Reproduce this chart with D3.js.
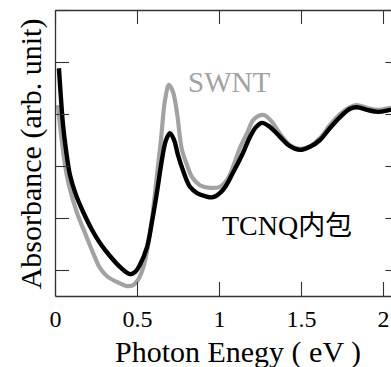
<!DOCTYPE html>
<html>
<head>
<meta charset="utf-8">
<script src="https://cdn.jsdelivr.net/npm/d3@7"></script>
</head>
<body style="margin:0;padding:0;background:#fff">
<svg id="chart" width="391" height="367" style="display:block"></svg>
<script>
// Absorption spectra: pristine SWNT and TCNQ-encapsulated SWNT
const xTicks = [0, 0.5, 1, 1.5, 2];
const xTickLabels = ["0", "0.5", "1", "1.5", "2"];
const yTicks = [0.5, 1.5, 2.5, 3.5, 4.5, 5.5];

const swntEnergy = [0.018, 0.030, 0.043, 0.061, 0.085, 0.134, 0.183, 0.232, 0.274, 0.317, 0.378, 0.439, 0.476, 0.506, 0.543, 0.573, 0.598, 0.622, 0.646, 0.671, 0.695, 0.720, 0.744, 0.774, 0.805, 0.835, 0.884, 0.945, 1.006, 1.049, 1.085, 1.128, 1.171, 1.207, 1.238, 1.274, 1.323, 1.372, 1.433, 1.494, 1.555, 1.616, 1.677, 1.738, 1.799, 1.841, 1.902, 1.970, 2.049, 2.100];
const swntAbs = [3.67, 3.29, 2.94, 2.52, 2.13, 1.60, 1.21, 0.83, 0.54, 0.38, 0.27, 0.19, 0.21, 0.31, 0.60, 1.08, 1.65, 2.33, 3.00, 3.77, 4.06, 3.92, 3.52, 2.81, 2.52, 2.29, 2.13, 2.08, 2.10, 2.23, 2.48, 2.85, 3.13, 3.38, 3.46, 3.48, 3.35, 3.12, 2.90, 2.83, 2.88, 3.04, 3.29, 3.50, 3.63, 3.67, 3.62, 3.58, 3.62, 3.64];

const tcnqEnergy = [0.024, 0.037, 0.049, 0.067, 0.091, 0.128, 0.171, 0.226, 0.274, 0.335, 0.396, 0.457, 0.488, 0.518, 0.561, 0.591, 0.622, 0.652, 0.677, 0.701, 0.726, 0.750, 0.780, 0.823, 0.866, 0.915, 0.963, 1.024, 1.085, 1.146, 1.189, 1.226, 1.262, 1.311, 1.372, 1.433, 1.494, 1.555, 1.616, 1.677, 1.738, 1.799, 1.841, 1.902, 1.970, 2.049, 2.100];
const tcnqAbs = [4.38, 3.77, 3.29, 2.81, 2.33, 1.94, 1.62, 1.27, 1.02, 0.77, 0.56, 0.42, 0.46, 0.60, 0.94, 1.42, 2.00, 2.62, 3.00, 3.13, 3.00, 2.71, 2.42, 2.10, 1.98, 1.92, 1.90, 2.04, 2.37, 2.75, 3.06, 3.25, 3.33, 3.25, 3.06, 2.88, 2.81, 2.87, 3.00, 3.23, 3.44, 3.60, 3.63, 3.58, 3.54, 3.58, 3.60];

const serifFace = '"Liberation Serif"';
const cjkFace = '"Noto Sans CJK JP"';

const svg = d3.select("#chart");
const plotLeft = 55, plotRight = 399.4, plotTop = 10, plotBottom = 296;

const x = d3.scaleLinear().domain([0, 2.1]).range([plotLeft, plotRight]);
const y = d3.scaleLinear().domain([0, 5.5]).range([plotBottom, plotTop]);

svg.append("defs").append("clipPath").attr("id", "plot")
  .append("rect").attr("x", plotLeft).attr("y", plotTop)
  .attr("width", plotRight - plotLeft).attr("height", plotBottom - plotTop);

const line = d3.line()
  .x(d => x(d[0])).y(d => y(d[1]))
  .curve(d3.curveCatmullRom.alpha(0.5));

const lines = svg.append("g").attr("clip-path", "url(#plot)");
lines.append("path")
  .datum(d3.zip(swntEnergy, swntAbs))
  .attr("d", line)
  .attr("fill", "none").attr("stroke", "#a2a2a2")
  .attr("stroke-width", 4.2).attr("stroke-linejoin", "round");
lines.append("path")
  .datum(d3.zip(tcnqEnergy, tcnqAbs))
  .attr("d", line)
  .attr("fill", "none").attr("stroke", "#000")
  .attr("stroke-width", 4.4).attr("stroke-linejoin", "round");

// Frame with inward ticks on all four sides
const tickLen = 14;
const axisStyle = g => {
  g.select(".domain").attr("stroke", "#333").attr("stroke-width", 1.3);
  g.selectAll(".tick line").attr("stroke", "#333").attr("stroke-width", 1.1);
};

svg.append("g").attr("transform", `translate(0,${plotBottom})`)
  .call(d3.axisBottom(x).tickValues(xTicks).tickSizeInner(-tickLen).tickSizeOuter(0)
    .tickFormat((d, i) => xTickLabels[i]).tickPadding(14))
  .call(axisStyle)
  .call(g => g.selectAll(".tick text")
    .style("font-family", serifFace).attr("font-size", 24).attr("fill", "#000"));

svg.append("g").attr("transform", `translate(0,${plotTop})`)
  .call(d3.axisTop(x).tickValues(xTicks).tickSizeInner(-tickLen).tickSizeOuter(0).tickFormat(""))
  .call(axisStyle);

svg.append("g").attr("transform", `translate(${plotLeft},0)`)
  .call(d3.axisLeft(y).tickValues(yTicks).tickSizeInner(-tickLen).tickSizeOuter(0).tickFormat(""))
  .call(axisStyle);

svg.append("g").attr("transform", `translate(${plotRight},0)`)
  .call(d3.axisRight(y).tickValues(yTicks).tickSizeInner(-tickLen).tickSizeOuter(0).tickFormat(""))
  .call(axisStyle);

// Axis titles
svg.append("text")
  .attr("x", 238).attr("y", 362)
  .attr("text-anchor", "middle")
  .style("font-family", serifFace).attr("font-size", 30).attr("fill", "#000")
  .text("Photon Enegy ( eV )");

svg.append("text")
  .attr("transform", "translate(41,154) rotate(-90)")
  .attr("text-anchor", "middle")
  .style("font-family", serifFace).attr("font-size", 30).attr("fill", "#000")
  .text("Absorbance (arb. unit)");

// Series labels
svg.append("text")
  .attr("x", 188).attr("y", 92)
  .style("font-family", serifFace).attr("font-size", 29).attr("fill", "#a2a2a2")
  .text("SWNT");

const lab = svg.append("text")
  .attr("x", 222).attr("y", 235)
  .style("font-family", serifFace).attr("font-size", 28).attr("fill", "#000");
lab.append("tspan").text("TCNQ");
lab.append("tspan").style("font-family", cjkFace).attr("font-size", 27).text("内包");
</script>
</body>
</html>
